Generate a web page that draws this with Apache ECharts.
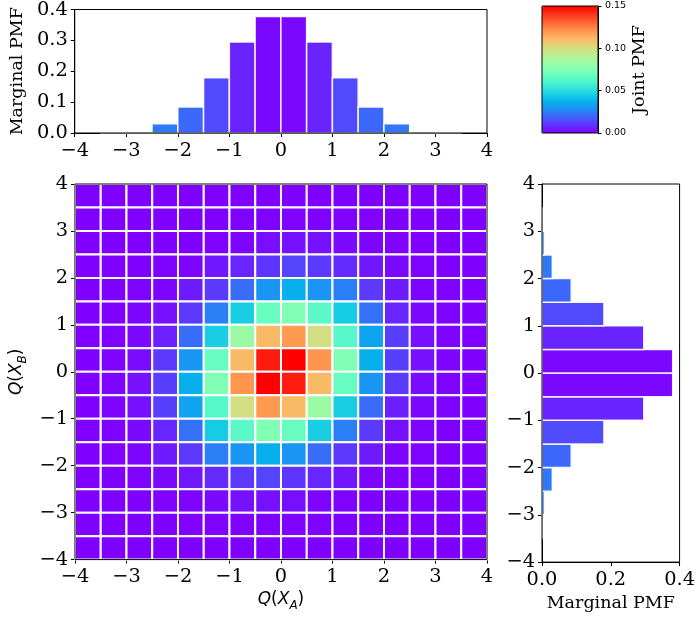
<!DOCTYPE html>
<html>
<head>
<meta charset="utf-8">
<script src="https://cdn.jsdelivr.net/npm/echarts@6/dist/echarts.min.js"></script>
<style>
html,body{margin:0;padding:0;background:#fff;}
#chart{width:698px;height:617px;}
</style>
</head>
<body>
<div id="chart"></div>
<script>
// ---- data ----
const binEdges = [-4,-3.5,-3,-2.5,-2,-1.5,-1,-0.5,0,0.5,1,1.5,2,2.5,3,3.5,4];
const marginalA = [0, 0.0005, 0.005, 0.03, 0.084, 0.179, 0.295, 0.377, 0.377, 0.295, 0.179, 0.084, 0.03, 0.005, 0.0005, 0];
const marginalB = [0, 0.0005, 0.007, 0.03, 0.085, 0.18, 0.296, 0.38, 0.38, 0.296, 0.18, 0.085, 0.03, 0.007, 0.0005, 0];
// joint PMF rows listed from TOP (Q(X_B) in [3.5,4]) to BOTTOM ([-4,-3.5]); columns from Q(X_A)=-4 to 4
const jointRow0  = [0,0,0,0,0,0,0,0,0,0,0,0,0,0,0,0];
const jointRow1  = [0,0,0,0,0,0,0.0002,0.0003,0.0004,0.0004,0.0003,0.0001,0,0,0,0];
const jointRow2  = [0,0,0,0,0,0.0003,0.001,0.0025,0.003,0.003,0.0015,0.0005,0.0001,0,0,0];
const jointRow3  = [0,0,0,0.0002,0.001,0.004,0.007,0.010,0.013,0.011,0.008,0.004,0.0015,0.0003,0,0];
const jointRow4  = [0,0,0.0003,0.001,0.005,0.011,0.021,0.030,0.036,0.030,0.025,0.011,0.005,0.0008,0.0001,0];
const jointRow5  = [0,0,0.0008,0.003,0.011,0.025,0.045,0.068,0.075,0.064,0.044,0.022,0.007,0.0015,0.0002,0];
const jointRow6  = [0,0.0002,0.0015,0.006,0.021,0.045,0.083,0.111,0.119,0.099,0.063,0.033,0.012,0.003,0.0005,0];
const jointRow7  = [0,0.0003,0.002,0.011,0.030,0.0675,0.111,0.145,0.150,0.120,0.075,0.036,0.012,0.003,0.0005,0];
const jointRow8  = [0,0.0005,0.003,0.012,0.036,0.075,0.120,0.150,0.145,0.111,0.0675,0.030,0.011,0.002,0.0003,0];
const jointRow9  = [0,0.0005,0.003,0.012,0.033,0.063,0.099,0.119,0.111,0.083,0.045,0.021,0.006,0.0015,0.0002,0];
const jointRow10 = [0,0.0002,0.0015,0.007,0.022,0.044,0.064,0.075,0.068,0.045,0.025,0.011,0.003,0.0008,0,0];
const jointRow11 = [0,0.0001,0.0008,0.005,0.011,0.025,0.030,0.036,0.030,0.021,0.011,0.005,0.001,0.0003,0,0];
const jointRow12 = [0,0,0.0003,0.0015,0.004,0.008,0.011,0.013,0.010,0.007,0.004,0.001,0.0002,0,0,0];
const jointRow13 = [0,0,0,0.0001,0.0005,0.0015,0.003,0.003,0.0025,0.001,0.0003,0,0,0,0,0];
const jointRow14 = [0,0,0,0,0.0001,0.0003,0.0004,0.0004,0.0003,0.0002,0,0,0,0,0,0];
const jointRow15 = [0,0,0,0,0,0,0,0,0,0,0,0,0,0,0,0];
const jointRowsTopDown = [jointRow0,jointRow1,jointRow2,jointRow3,jointRow4,jointRow5,jointRow6,jointRow7,
  jointRow8,jointRow9,jointRow10,jointRow11,jointRow12,jointRow13,jointRow14,jointRow15];
const colorbarTicks = [0, 0.05, 0.10, 0.15];

// ---- helpers ----
function rainbow(t){
  t = Math.max(0, Math.min(1, t));
  const r = Math.min(1, Math.abs(2*t - 0.5));
  const g = Math.sin(Math.PI*t);
  const b = Math.cos(Math.PI*t/2);
  const h = v => Math.round(Math.max(0,Math.min(1,v))*255);
  return 'rgb(' + h(r) + ',' + h(g) + ',' + h(b) + ')';
}
const heatStops = [];
for (let k = 0; k <= 30; k++) heatStops.push(rainbow(k/30));
const barStops = [];
for (let k = 0; k <= 12; k++) barStops.push(rainbow(0.17*(1 - k/12)));

const fmtQ = v => (v < 0 ? '\u2212' + Math.abs(v) : String(v));
const serif = 'DejaVu Serif';
const tickFont = 19.4;

// ---- build series data from arrays ----
const topBarData = marginalA.map((v, i) => [binEdges[i], binEdges[i+1], v]);
const rightBarData = marginalB.map((v, i) => [binEdges[i], binEdges[i+1], v]);
const heatData = [];
jointRowsTopDown.forEach((row, r) => {
  const yi = 15 - r;
  row.forEach((v, c) => {
    heatData.push([binEdges[c], binEdges[c+1], binEdges[yi], binEdges[yi+1], v]);
  });
});

const tickStyle = {show:true, inside:false, length:4, lineStyle:{color:'#000', width:1}};
const lineStyle = {show:true, onZero:false, lineStyle:{color:'#000', width:1}};
const labelStyle = {color:'#000', fontFamily:serif, fontSize:tickFont};
const gridCommon = {show:true, borderColor:'#000', borderWidth:1, backgroundColor:'transparent', z:5};
const mathRich = {
  i:{fontFamily:'DejaVu Sans', fontStyle:'italic', fontSize:17, color:'#000', lineHeight:24, verticalAlign:'middle'},
  n:{fontFamily:'DejaVu Sans', fontSize:17, color:'#000', lineHeight:24, verticalAlign:'middle'},
  s:{fontFamily:'DejaVu Sans', fontStyle:'italic', fontSize:12, color:'#000', lineHeight:24, verticalAlign:'bottom'}
};

const chart = echarts.init(document.getElementById('chart'), null, {renderer:'canvas'});
const option = {
  animation:false,
  backgroundColor:'#fff',
  grid:[
    Object.assign({left:72, top:6, width:415, height:127}, gridCommon),
    Object.assign({left:72, top:184, width:415, height:380}, gridCommon),
    Object.assign({left:542, top:184, width:138, height:380}, gridCommon),
    Object.assign({left:542, top:6, width:56, height:127}, gridCommon)
  ],
  xAxis:[
    {gridIndex:0, type:'value', min:-4, max:4, interval:1, axisLine:lineStyle, axisTick:tickStyle,
     axisLabel:Object.assign({margin:8, formatter:fmtQ}, labelStyle), splitLine:{show:false}},
    {gridIndex:1, type:'value', min:-4, max:4, interval:1, axisLine:lineStyle, axisTick:tickStyle,
     axisLabel:Object.assign({margin:8, formatter:fmtQ}, labelStyle), splitLine:{show:false},
     name:'{i|Q}{n|(}{i|X}{s|A}{n|)}', nameLocation:'middle', nameGap:25,
     nameTextStyle:{color:'#000', fontFamily:'DejaVu Sans', fontSize:17, rich:mathRich}},
    {gridIndex:2, type:'value', min:0, max:0.4, interval:0.2, axisLine:lineStyle, axisTick:tickStyle,
     axisLabel:Object.assign({margin:8, formatter:v => v.toFixed(1)}, labelStyle), splitLine:{show:false},
     name:'Marginal PMF', nameLocation:'middle', nameGap:30,
     nameTextStyle:{color:'#000', fontFamily:serif, fontSize:17.5}},
    {gridIndex:3, type:'value', min:0, max:1, show:false}
  ],
  yAxis:[
    {gridIndex:0, type:'value', min:0, max:0.4, interval:0.1, axisLine:lineStyle, axisTick:tickStyle,
     axisLabel:Object.assign({margin:7, formatter:v => v.toFixed(1)}, labelStyle), splitLine:{show:false},
     name:'Marginal PMF', nameLocation:'middle', nameRotate:90, nameGap:41,
     nameTextStyle:{color:'#000', fontFamily:serif, fontSize:17.5}},
    {gridIndex:1, type:'value', min:-4, max:4, interval:1, axisLine:lineStyle, axisTick:tickStyle,
     axisLabel:Object.assign({margin:7, formatter:fmtQ}, labelStyle), splitLine:{show:false},
     name:'{i|Q}{n|(}{i|X}{s|B}{n|)}', nameLocation:'middle', nameRotate:90, nameGap:37,
     nameTextStyle:{color:'#000', fontFamily:'DejaVu Sans', fontSize:17, rich:mathRich}},
    {gridIndex:2, type:'value', min:-4, max:4, interval:1, axisLine:lineStyle, axisTick:tickStyle,
     axisLabel:Object.assign({margin:7, formatter:fmtQ}, labelStyle), splitLine:{show:false}},
    {gridIndex:3, type:'value', min:colorbarTicks[0], max:colorbarTicks[colorbarTicks.length-1], interval:0.05,
     position:'right', axisLine:lineStyle, axisTick:{show:true, inside:false, length:3.5, lineStyle:{color:'#000', width:1}},
     axisLabel:{margin:7, color:'#000', fontFamily:'DejaVu Sans', fontSize:9.5, formatter:v => v.toFixed(2)},
     splitLine:{show:false},
     name:'Joint PMF', nameLocation:'middle', nameRotate:90, nameGap:32,
     nameTextStyle:{color:'#000', fontFamily:serif, fontSize:17.5}}
  ],
  visualMap:[
    {type:'continuous', seriesIndex:1, dimension:4, min:0, max:0.15, inRange:{color:heatStops},
     orient:'vertical', left:542, top:6, itemWidth:56, itemHeight:127, padding:0, calculable:false,
     text:null, hoverLink:false, z:4},
    {type:'continuous', show:false, seriesIndex:[0,2], dimension:2, min:0, max:0.4, inRange:{color:barStops}}
  ],
  series:[
    {type:'custom', xAxisIndex:0, yAxisIndex:0, data:topBarData, encode:{x:[0,1], y:2},
     renderItem:function(params, api){
       const v = api.value(2);
       if (!(v > 0)) return null;
       const p0 = api.coord([api.value(0), v]);
       const p1 = api.coord([api.value(1), 0]);
       return {type:'rect', shape:{x:p0[0], y:p0[1], width:p1[0]-p0[0], height:p1[1]-p0[1]},
               style:{fill:api.visual('color'), stroke:'rgba(255,255,255,0.9)', lineWidth:1.5}};
     }},
    {type:'custom', xAxisIndex:1, yAxisIndex:1, data:heatData, encode:{x:[0,1], y:[2,3]},
     renderItem:function(params, api){
       const p0 = api.coord([api.value(0), api.value(3)]);
       const p1 = api.coord([api.value(1), api.value(2)]);
       return {type:'rect', shape:{x:p0[0], y:p0[1], width:p1[0]-p0[0], height:p1[1]-p0[1]},
               style:{fill:api.visual('color'), stroke:'#fff', lineWidth:2}};
     }},
    {type:'custom', xAxisIndex:2, yAxisIndex:2, data:rightBarData, encode:{x:2, y:[0,1]},
     renderItem:function(params, api){
       const v = api.value(2);
       if (!(v > 0)) return null;
       const p0 = api.coord([0, api.value(1)]);
       const p1 = api.coord([v, api.value(0)]);
       return {type:'rect', shape:{x:p0[0], y:p0[1], width:p1[0]-p0[0], height:p1[1]-p0[1]},
               style:{fill:api.visual('color'), stroke:'rgba(255,255,255,0.9)', lineWidth:1.5}};
     }}
  ]
};
chart.setOption(option);
</script>
</body>
</html>
